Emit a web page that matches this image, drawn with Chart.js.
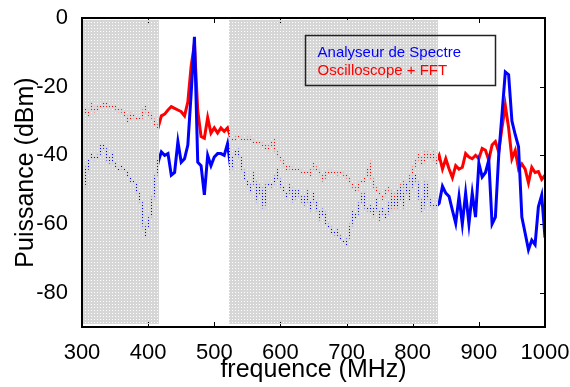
<!DOCTYPE html>
<html>
<head>
<meta charset="utf-8">
<script src="https://cdn.jsdelivr.net/npm/chart.js@4.4.1/dist/chart.umd.min.js"></script>
<style>
  html, body { margin: 0; padding: 0; background: #fff; }
</style>
</head>
<body>
<canvas id="spectreChart" width="570" height="387"></canvas>
<script>
  // -----Data (MHz / dBm)
  const freqs = [
    300, 305, 310, 315, 320, 325, 330, 335, 340, 345,
    350, 355, 360, 365, 370, 375, 380, 385, 390, 395,
    400, 405, 410, 415, 420, 425, 430, 435, 440, 445,
    450, 455, 460, 465, 470, 475, 480, 485, 490, 495,
    500, 505, 510, 515, 520, 525, 530, 535, 540, 545,
    550, 555, 560, 565, 570, 575, 580, 585, 590, 595,
    600, 605, 610, 615, 620, 625, 630, 635, 640, 645,
    650, 655, 660, 665, 670, 675, 680, 685, 690, 695,
    700, 705, 710, 715, 720, 725, 730, 735, 740, 745,
    750, 755, 760, 765, 770, 775, 780, 785, 790, 795,
    800, 805, 810, 815, 820, 825, 830, 835, 840, 845,
    850, 855, 860, 865, 870, 875, 880, 885, 890, 895,
    900, 905, 910, 915, 920, 925, 930, 935, 940, 945,
    950, 955, 960, 965, 970, 975, 980, 985, 990, 995,
    1000
  ];

  // Analyseur de Spectre
  const analyseur = [
    -38, -47, -42, -40, -41, -40.5, -37, -38, -42, -40,
    -43, -44, -43.5, -44, -46, -47.5, -48, -51, -54, -63,
    -60, -56, -48, -42, -39, -40, -39.5, -45.8, -45, -36,
    -42, -41, -37, -22, -5.5, -42, -43, -51.5, -40, -43,
    -40.5, -39.5, -39.5, -40, -36.6, -44, -40, -38.5, -41, -46,
    -48, -50, -46, -52, -49, -55, -48, -49, -48, -45,
    -48.5, -50, -52, -49, -53, -50, -52, -54, -51, -55,
    -52, -55, -58, -56, -60, -61, -63, -62, -64, -65,
    -66, -62, -57, -58, -54, -51, -56, -55, -57, -54,
    -58, -56, -58, -54, -53, -55, -50, -54, -49, -52,
    -47, -46, -52, -56, -48, -53, -55, -55, -54, -49,
    -51, -52, -56, -59.8, -52, -60, -51, -60, -51, -58,
    -42.3, -46.3, -45, -41.4, -60, -58, -40, -28, -15.7, -16.5,
    -30, -34, -37.5, -58, -62.7, -67.5, -64.7, -66, -55, -51.6,
    -64
  ];

  // Oscilloscope + FFT
  const oscillo = [
    -28, -27, -28, -25.5, -27, -26, -26, -24.5, -26, -25.5,
    -26, -27, -27, -28, -30, -28, -29, -29.5, -29, -26,
    -28, -28, -31, -32, -28.5, -28, -26.8, -25.8, -26.3, -26.8,
    -27.3, -28.5, -24.5, -14, -7.5, -27, -34.5, -35, -29, -33.5,
    -32, -33.5, -32, -33, -32, -35, -35.5, -34.6, -35, -35.5,
    -35, -35, -36.5, -36, -36.5, -37, -38.5, -37, -36, -40,
    -40.5, -42.4, -44, -43.5, -44, -44, -44.5, -45, -45, -45.5,
    -42.8, -44, -45, -47.2, -45, -44.5, -45, -45.5, -45, -45.5,
    -45.8, -47.7, -49, -50.5, -48, -47.7, -46, -43, -48.5, -50,
    -51, -52.5, -50, -49.6, -55.5, -51, -50, -48, -50, -47,
    -44.3, -42, -40, -42.4, -39, -41, -39.4, -42, -40, -44,
    -41, -44, -46.5, -43, -44, -43.5, -39.5, -40.5, -41, -40,
    -41, -38, -38.5, -41.4, -37, -36, -39, -32, -25.5, -32,
    -41, -38.6, -44, -42.5, -44, -48, -43.5, -45, -44.7, -47,
    -45.8
  ];

  const xTicks = [300, 400, 500, 600, 700, 800, 900, 1000];
  const yTicks = [-80, -60, -40, -20, 0];

  // shaded (masked) frequency bands
  const bandStart = [300, 522.8];
  const bandEnd = [416.5, 838.6];

  const FONT = 'Liberation Sans, Arial, sans-serif';

  // gray with a grid of tiny holes, like the figure's hatched patch
  const tile = document.createElement('canvas');
  tile.width = 3; tile.height = 3;
  const tctx = tile.getContext('2d');
  tctx.fillStyle = '#d6d6d6';
  tctx.fillRect(0, 0, 3, 3);
  tctx.clearRect(1, 1, 1, 1);

  function seg(ctx, x1, y1, x2, y2) {
    ctx.beginPath(); ctx.moveTo(x1, y1); ctx.lineTo(x2, y2); ctx.stroke();
  }

  const frame = {
    id: 'frame',
    beforeDatasetsDraw(chart) {
      // inner ticks on all four sides (under the shading)
      const { ctx, chartArea: a, scales: { x, y } } = chart;
      ctx.save();
      ctx.strokeStyle = '#000';
      ctx.lineWidth = 1;
      xTicks.forEach(v => {
        const px = Math.round(x.getPixelForValue(v)) + 0.5;
        seg(ctx, px, a.bottom, px, a.bottom - 5);
        seg(ctx, px, a.top, px, a.top + 5);
      });
      yTicks.forEach(v => {
        const py = Math.round(y.getPixelForValue(v)) + 0.5;
        seg(ctx, a.left, py, a.left + 5, py);
        seg(ctx, a.right, py, a.right - 5, py);
      });
      ctx.restore();
    },
    afterDatasetsDraw(chart) {
      const { ctx, chartArea: a, scales: { x, y } } = chart;
      ctx.save();
      // shaded bands
      ctx.fillStyle = ctx.createPattern(tile, 'repeat');
      const top = y.getPixelForValue(-0.6), bot = y.getPixelForValue(-89);
      bandStart.forEach((s, i) => {
        const l = Math.round(x.getPixelForValue(s));
        const r = Math.round(x.getPixelForValue(bandEnd[i]));
        ctx.fillRect(l, Math.round(top), r - l, Math.round(bot - top));
      });
      // axes box
      ctx.strokeStyle = '#000';
      ctx.lineWidth = 2;
      ctx.strokeRect(a.left, a.top, a.right - a.left, a.bottom - a.top);
      // legend box
      const lx = x.getPixelForValue(636.5), rx = x.getPixelForValue(923.5);
      const ty = y.getPixelForValue(-4.9), by = y.getPixelForValue(-19.5);
      ctx.strokeStyle = '#222';
      ctx.lineWidth = 1.5;
      ctx.strokeRect(Math.round(lx) + 0.5, Math.round(ty) + 0.5, Math.round(rx - lx), Math.round(by - ty));
      ctx.font = '15px ' + FONT;
      ctx.textBaseline = 'alphabetic';
      ctx.fillStyle = '#0000ff';
      ctx.fillText('Analyseur de Spectre', lx + 13, ty + 22);
      ctx.fillStyle = '#ff0000';
      ctx.fillText('Oscilloscope + FFT', lx + 13, ty + 40);
      ctx.restore();
    }
  };

  var ctx = document.getElementById('spectreChart');

  var data = {
    datasets: [{
      label: 'Analyseur de Spectre',
      data: freqs.map((f, i) => ({ x: f, y: analyseur[i] })),
      borderColor: '#0000ff',
      borderWidth: 3,
      pointRadius: 0,
      tension: 0
    }, {
      label: 'Oscilloscope + FFT',
      data: freqs.map((f, i) => ({ x: f, y: oscillo[i] })),
      borderColor: '#ff0000',
      borderWidth: 3,
      pointRadius: 0,
      tension: 0
    }]
  };

  new Chart(ctx, {
    type: 'line',
    data: data,
    plugins: [frame],
    options: {
      responsive: false,
      animation: false,
      layout: { padding: { top: 18, right: 25, left: 0, bottom: 0 } },
      plugins: { legend: { display: false }, tooltip: { enabled: false } },
      scales: {
        x: {
          type: 'linear', min: 300, max: 1000,
          grid: { display: false }, border: { display: false },
          afterBuildTicks: s => { s.ticks = xTicks.map(v => ({ value: v })); },
          ticks: { color: '#000', font: { family: FONT, size: 22 }, padding: 5, maxRotation: 0, autoSkip: false,
                   callback: v => String(v) },
          title: { display: true, text: 'frequence (MHz)', color: '#000', font: { family: FONT, size: 25 }, padding: { top: 0, bottom: 2 } },
          afterFit: s => { s.height = 60; s.paddingLeft = 0; s.paddingRight = 0; }
        },
        y: {
          min: -90, max: 0,
          grid: { display: false }, border: { display: false },
          afterBuildTicks: s => { s.ticks = yTicks.map(v => ({ value: v })); },
          ticks: { color: '#000', font: { family: FONT, size: 22 }, padding: 6, callback: v => String(v) },
          title: { display: true, text: 'Puissance (dBm)', color: '#000', font: { family: FONT, size: 25 }, padding: { top: 11, bottom: 0 } },
          afterFit: s => { s.width = 82; s.paddingTop = 0; s.paddingBottom = 0; }
        }
      }
    }
  });
</script>
</body>
</html>
